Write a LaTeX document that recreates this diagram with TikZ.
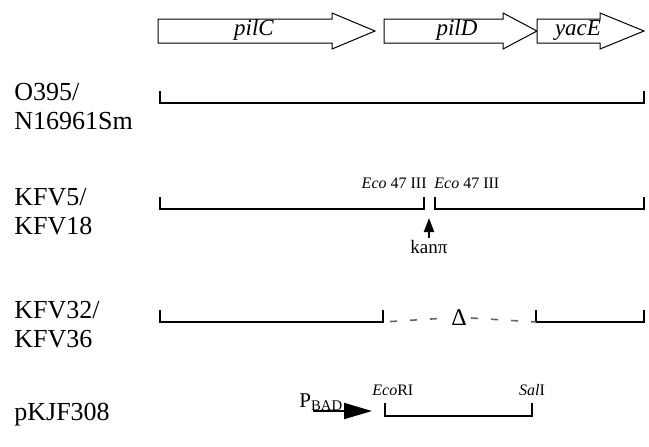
\documentclass[tikz,border=0pt]{standalone}
\usepackage{fontspec}
\setmainfont{Liberation Serif}
\usetikzlibrary{arrows.meta,positioning}

\begin{document}
\begin{tikzpicture}[x=0.5pt, y=-0.5pt,
  gene/.style={draw=black, line width=0.5pt, fill=white},
  genename/.style={anchor=base, inner sep=0pt, font=\fontsize{11.5}{12}\selectfont\itshape},
  strain/.style={anchor=base west, inner sep=0pt, font=\fontsize{13}{14}\selectfont},
  dna/.style={line width=1.2pt},
  site/.style={inner sep=0pt, font=\fontsize{8}{9}\selectfont},
  gapl/.style={black!60, line width=0.8pt, dash pattern=on 3.5pt off 6.5pt, dash phase=6.5pt},
  gapr/.style={black!60, line width=0.8pt, dash pattern=on 3.5pt off 6.5pt}
]
\useasboundingbox (0,0) rectangle (649,446);

% ---------- genes ----------
\foreach \xa/\xb/\xc/\xl/\gname in {158/332/375/254/pilC, 384/503/537/457/pilD, 537/600/644/578/yacE}{
  \draw[gene] (\xa,19) -- (\xb,19) -- (\xb,13) -- (\xc,31) -- (\xb,49) -- (\xb,43) -- (\xa,43) -- cycle;
  \node[genename] (g-\gname) at (\xl,35) {\gname};
}

% ---------- strain names ----------
\node[strain] (wt-a)  at (14,100) {O395/};
\node[strain] (wt-b)  at (14,129) {N16961Sm};
\node[strain] (kan-a) at (14,205) {KFV5/};
\node[strain] (kan-b) at (14,234) {KFV18};
\node[strain] (del-a) at (14,318) {KFV32/};
\node[strain] (del-b) at (14,347) {KFV36};
\node[strain] (pl)    at (14,420) {pKJF308};

% ---------- O395 ----------
\coordinate (w1) at (160,103);
\coordinate (w2) at (644,103);
\draw[dna] ([yshift=6pt]w1) -- (w1) -- (w2) -- ([yshift=6pt]w2);

% ---------- KFV5 ----------
\coordinate (k1) at (160,209);
\coordinate (k2) at (424,209);
\coordinate (k3) at (435,209);
\coordinate (k4) at (644,209);
\draw[dna] ([yshift=6pt]k1) -- (k1) -- (k2) -- ([yshift=6pt]k2);
\draw[dna] ([yshift=6pt]k3) -- (k3) -- (k4) -- ([yshift=6pt]k4);
\node[site, anchor=base east] (eco1) at (427,188) {\textit{Eco} 47 III};
\node[site, anchor=base west] (eco2) at (434,188) {\textit{Eco} 47 III};
\node[inner sep=1pt, font=\fontsize{9.5}{10}\selectfont] (kanr) at (429,247) {kanπ};
\coordinate (kin) at (429,218);
\draw[line width=1pt, -{Triangle[length=7pt,width=5pt]}] (kanr.north) -- (kin);

% ---------- KFV32 ----------
\coordinate (d1) at (160,322);
\coordinate (d2) at (383,322);
\coordinate (d3) at (536,322);
\coordinate (d4) at (644,322);
\draw[dna] ([yshift=6pt]d1) -- (d1) -- (d2) -- ([yshift=6pt]d2);
\draw[dna] ([yshift=6pt]d3) -- (d3) -- (d4) -- ([yshift=6pt]d4);
\node[inner sep=2pt, font=\fontsize{12}{13}\selectfont] (delta) at (459,318) {Δ};
\draw[gapl] (d2) -- (delta.west);
\draw[gapr] (delta.east) -- (d3);

% ---------- pKJF308 ----------
\coordinate (p1) at (385,416);
\coordinate (p2) at (532,416);
\draw[dna] ([yshift=6.5pt]p1) -- (p1) -- (p2) -- ([yshift=6.5pt]p2);
\node[site, anchor=base west] (ecori) at (372,395) {\textit{Eco}RI};
\node[site, anchor=base] (sali) at (532,395) {\textit{Sal}I};
\node[inner sep=0pt, anchor=base west, font=\fontsize{10.5}{11}\selectfont] (pbad) at (299,407) {P\textsubscript{BAD}};
\coordinate (pa) at (313,411);
\coordinate (pb) at (372,411);
\draw[line width=1pt, -{Triangle[length=14pt,width=8pt]}] (pa) -- (pb);

\end{tikzpicture}
\end{document}
